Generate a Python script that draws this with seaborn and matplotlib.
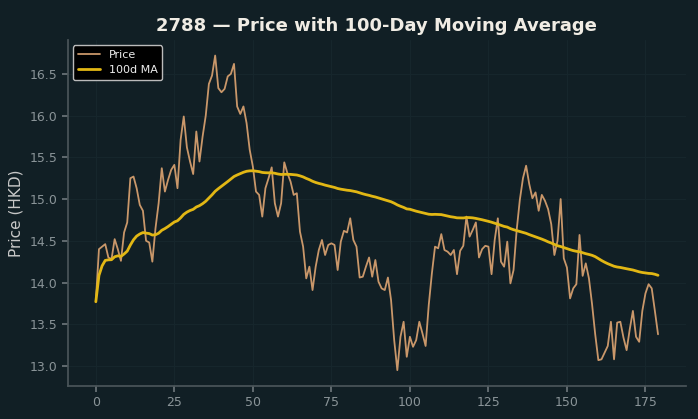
import numpy as np
import pandas as pd
import matplotlib
matplotlib.use("Agg")
import matplotlib.pyplot as plt
import seaborn as sns

title = "2788 — Price with 100-Day Moving Average"
ylabel = "Price (HKD)"
price = [
    13.77, 14.40, 14.43, 14.46, 14.30, 14.28, 14.52, 14.40, 14.26, 14.60,
    14.72, 15.25, 15.27, 15.13, 14.93, 14.86, 14.50, 14.48, 14.25, 14.65,
    14.95, 15.37, 15.09, 15.23, 15.35, 15.41, 15.13, 15.71, 15.99, 15.62,
    15.45, 15.30, 15.81, 15.45, 15.75, 16.00, 16.38, 16.48, 16.72, 16.33,
    16.28, 16.32, 16.47, 16.50, 16.62, 16.11, 16.02, 16.11, 15.91, 15.59,
    15.39, 15.09, 15.05, 14.79, 15.13, 15.25, 15.38, 14.95, 14.79, 14.95,
    15.44, 15.31, 15.21, 15.05, 15.07, 14.61, 14.43, 14.05, 14.19, 13.91,
    14.19, 14.39, 14.51, 14.33, 14.45, 14.47, 14.45, 14.15, 14.49, 14.62,
    14.60, 14.77, 14.51, 14.43, 14.06, 14.07, 14.19, 14.30, 14.07, 14.27,
    14.01, 13.93, 13.91, 14.06, 13.79, 13.31, 12.95, 13.35, 13.53, 13.11,
    13.35, 13.23, 13.31, 13.53, 13.39, 13.24, 13.73, 14.11, 14.43, 14.41,
    14.58, 14.39, 14.37, 14.33, 14.39, 14.10, 14.38, 14.44, 14.79, 14.55,
    14.63, 14.72, 14.30, 14.40, 14.44, 14.43, 14.10, 14.51, 14.77, 14.25,
    14.19, 14.49, 13.99, 14.15, 14.63, 14.99, 15.25, 15.40, 15.18, 15.01,
    15.08, 14.86, 15.05, 14.98, 14.88, 14.70, 14.33, 14.50, 15.00, 14.29,
    14.18, 13.81, 13.93, 13.98, 14.57, 14.08, 14.23, 14.05, 13.74, 13.38,
    13.07, 13.08, 13.16, 13.24, 13.53, 13.08, 13.52, 13.53, 13.34, 13.19,
    13.44, 13.66, 13.35, 13.29, 13.66, 13.87, 13.98, 13.93, 13.66, 13.38,
]
ma_window = 100

df = pd.DataFrame({"day": np.arange(len(price)), "Price": price})
df["MA"] = df["Price"].rolling(ma_window, min_periods=1).mean()

bg = "#111f25"
sns.set_theme(style="darkgrid")
plt.rcParams.update({
    "figure.facecolor": bg,
    "axes.facecolor": bg,
    "axes.edgecolor": "#4a5559",
    "text.color": "#eeeeee",
    "axes.labelcolor": "#c8c8c8",
    "xtick.color": "#8a9498",
    "ytick.color": "#8a9498",
    "font.family": ["DejaVu Sans"],
})

fig, ax = plt.subplots(figsize=(6.98, 4.19), dpi=100)
sns.lineplot(data=df, x="day", y="Price", ax=ax, color="#c9976a", linewidth=1.3, label="Price")
sns.lineplot(data=df, x="day", y="MA", ax=ax, color="#e2b714", linewidth=2.0, label="100d MA")
ax.set_title(title, fontsize=13, fontweight="bold", color="#f0ece4")
ax.set_xlabel("")
ax.set_ylabel(ylabel, fontsize=11)
ax.tick_params(axis="both", labelsize=9, length=4, color="#6a7478", bottom=True, left=True)
ax.grid(True, color="#16262c", linewidth=0.8)
for s in ["top", "right"]:
    ax.spines[s].set_visible(False)
for s in ["left", "bottom"]:
    ax.spines[s].set_visible(True)
    ax.spines[s].set_color("#4a5559")
leg = ax.legend(loc="upper left", fontsize=8, facecolor="black", edgecolor="#bbbbbb", framealpha=1.0)
for t in leg.get_texts():
    t.set_color("#eeeeee")
fig.subplots_adjust(left=0.097, right=0.983, top=0.905, bottom=0.079)
fig.savefig("out.png", dpi=100, facecolor=bg)
